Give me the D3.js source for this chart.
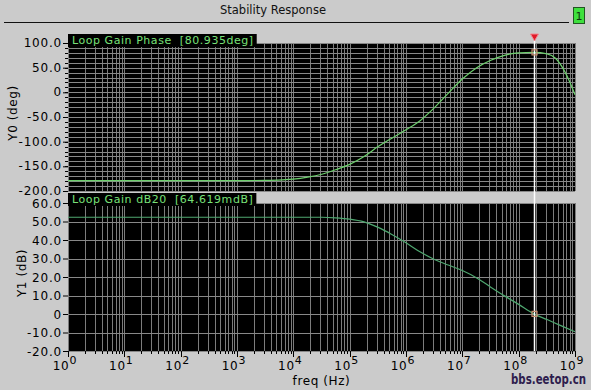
<!DOCTYPE html>
<html><head><meta charset="utf-8">
<script src="https://cdn.jsdelivr.net/npm/d3@7"></script>
<style>
html,body{margin:0;padding:0;background:#cbcbcb;}
svg{display:block;}
text{font-family:"DejaVu Sans",sans-serif;white-space:pre;}
</style></head>
<body>
<svg id="chart" width="591" height="390"></svg>
<script>
// ---- data ----
const phaseFreq = [1, 1e3, 3.2e3, 6.3e3, 1e4, 1.8e4, 3.2e4, 5.6e4, 1e5, 1.8e5, 3.2e5, 5.6e5, 1e6, 1.8e6, 3.2e6, 5.6e6, 1e7, 1.8e7, 3.2e7, 5.6e7, 1e8, 1.86e8, 3.2e8, 4.5e8, 6.3e8, 8e8, 1e9];
const phaseDeg  = [-179, -179, -178.5, -177.5, -176, -172, -166, -157, -146, -130, -110, -93, -76, -57, -31, -2, 27, 50, 65, 75, 80, 81, 78, 69, 46, 22, -5];
const gainFreq  = [1, 3.2e4, 5.6e4, 1e5, 1.8e5, 3.2e5, 5.6e5, 1e6, 1.8e6, 3.2e6, 5.6e6, 1e7, 1.8e7, 3.2e7, 5.6e7, 1e8, 1.86e8, 3.2e8, 5.6e8, 1e9];
const gainDB    = [52.3, 52.3, 52.0, 51.3, 49.8, 46.8, 43, 38.5, 33.5, 29.5, 26.5, 23.5, 19.5, 14.5, 9.8, 5.2, 0.065, -3, -6.3, -9.6];
const decades   = [0, 1, 2, 3, 4, 5, 6, 7, 8, 9];
const phaseTicks = [100, 50, 0, -50, -100, -150, -200];
const phaseTickLabels = ["100.0", "50.0", "0", "-50.0", "-100.0", "-150.0", "-200.0"];
const gainTicks = [60, 50, 40, 30, 20, 10, 0, -10, -20];
const gainTickLabels = ["60.0", "50.0", "40.0", "30.0", "20.0", "10.0", "0", "-10.0", "-20.0"];
const markerFreq = 1.86e8;
const phaseLabel = "Loop Gain Phase  [80.935deg]";
const gainLabel = "Loop Gain dB20  [64.619mdB]";
const markerPhase = 81, markerGain = 0.065;

// ---- layout ----
const svg = d3.select("#chart");
const L = 68, R = 575;
const x = d3.scaleLog().domain([1, 1e9]).range([L, R]);
const y0 = d3.scaleLinear().domain([-200, 100]).range([191, 43]);
const y1 = d3.scaleLinear().domain([-20, 60]).range([351, 203]);

const xMinor = [];
decades.forEach(d => { for (let i = 1; i <= 9; i++) { const v = i * Math.pow(10, d); if (v <= 1e9) xMinor.push(v); } });

// title
svg.append("text").attr("x", 273).attr("y", 14).attr("text-anchor", "middle")
  .attr("font-size", 11.5).attr("fill", "#111").text("Stability Response");
svg.append("line").attr("x1", 4).attr("x2", 569).attr("y1", 22.5).attr("y2", 22.5).attr("stroke", "#111").attr("stroke-width", 1);
svg.append("rect").attr("x", 573.5).attr("y", 7.5).attr("width", 11).attr("height", 16).attr("fill", "#3ee03e").attr("stroke", "#225522");
svg.append("text").attr("x", 579).attr("y", 20).attr("text-anchor", "middle").attr("font-size", 11).attr("fill", "#113311").text("1");

function panel(ys, grid, ticksMajor, tickLabels, minorTicks, freq, vals, color, label, labelTop, yTitle, yTitleX, tickDy) {
  const [y0p, y1p] = ys.range();
  const g = svg.append("g");
  g.append("rect").attr("x", L).attr("y", y1p).attr("width", R - L).attr("height", y0p - y1p).attr("fill", "#000");
  g.selectAll(".vg").data(xMinor).join("line")
    .attr("x1", d => Math.round(x(d)) + 0.5).attr("x2", d => Math.round(x(d)) + 0.5)
    .attr("y1", y1p).attr("y2", y0p).attr("stroke", "#7c7c7c").attr("stroke-width", 1);
  g.selectAll(".hg").data(grid).join("line")
    .attr("x1", L).attr("x2", R)
    .attr("y1", d => Math.round(ys(d)) + 0.5).attr("y2", d => Math.round(ys(d)) + 0.5)
    .attr("stroke", "#888").attr("stroke-width", 1);
  const ax = svg.append("g").attr("transform", `translate(${L},0)`)
    .call(d3.axisLeft(ys).tickValues(ticksMajor).tickSize(5).tickPadding(1)
      .tickFormat((d, i) => tickLabels[i]));
  ax.select(".domain").remove();
  ax.selectAll("line").attr("stroke", "#000");
  ax.selectAll("text").attr("font-size", 12).attr("letter-spacing", "0.8px").attr("fill", "#000")
    .attr("font-family", "DejaVu Sans").attr("dy", tickDy);
  if (minorTicks.length) {
    svg.append("g").selectAll("line").data(minorTicks).join("line")
      .attr("x1", L - 3).attr("x2", L).attr("y1", d => Math.round(ys(d)) + 0.5).attr("y2", d => Math.round(ys(d)) + 0.5)
      .attr("stroke", "#000");
  }
  const pts = freq.map((f, i) => [f, vals[i]]);
  g.append("path").datum(pts)
    .attr("d", d3.line().x(d => x(d[0])).y(d => ys(d[1])).curve(d3.curveMonotoneX))
    .attr("fill", "none").attr("stroke", color).attr("stroke-width", 1.2);
  const lt = svg.append("text").attr("x", L + 4).attr("y", labelTop + 10)
    .attr("font-size", 11).attr("letter-spacing", "0.55px").attr("fill", "#78e078")
    .attr("xml:space", "preserve").text(label);
  const bb = lt.node().getBBox();
  svg.insert("rect", () => lt.node()).attr("x", L).attr("y", labelTop).attr("width", bb.width + 7).attr("height", 13).attr("fill", "#000");
  svg.append("text").attr("transform", `translate(${yTitleX},${(y0p + y1p) / 2 - 4}) rotate(-90)`)
    .attr("text-anchor", "middle").attr("font-size", 12).attr("letter-spacing", "0.6px").attr("fill", "#000").text(yTitle);
}

const phaseGrid = d3.range(-200, 101, 10);
const gainGrid = d3.range(-20, 61, 10);
panel(y0, phaseGrid, phaseTicks, phaseTickLabels, phaseGrid, phaseFreq, phaseDeg, "#6ccf6c", phaseLabel, 34, "Y0 (deg)", 17, "0.3em");
panel(y1, gainGrid, gainTicks, gainTickLabels, [], gainFreq, gainDB, "#4fa870", gainLabel, 193, "Y1 (dB)", 26, "0.36em");

// x axis
const xa = svg.append("g").attr("transform", `translate(0,351)`);
xa.selectAll("line").data(xMinor).join("line")
  .attr("x1", d => Math.round(x(d)) + 0.5).attr("x2", d => Math.round(x(d)) + 0.5)
  .attr("y1", 0).attr("y2", d => decades.some(k => Math.abs(Math.pow(10, k) - d) < 1e-6 * d) ? 6 : 3)
  .attr("stroke", "#000");
const xl = svg.append("g").selectAll("text").data(decades).join("text")
  .attr("x", d => x(Math.pow(10, d)) - 3).attr("y", 370).attr("text-anchor", "middle")
  .attr("font-size", 12).attr("letter-spacing", "0.8px").attr("fill", "#000");
xl.append("tspan").text("10");
xl.append("tspan").attr("dy", -6).attr("font-size", 11).text(d => d);
svg.append("text").attr("x", (L + R) / 2).attr("y", 385).attr("text-anchor", "middle")
  .attr("font-size", 12).attr("letter-spacing", "0.6px").attr("fill", "#000").text("freq (Hz)");

// marker
const mx = Math.round(x(markerFreq)) + 0.5;
svg.append("line").attr("x1", mx).attr("x2", mx).attr("y1", 41).attr("y2", 351).attr("stroke", "#ffffff").attr("stroke-width", 1.5);
svg.append("path").attr("d", `M${mx - 4},34 L${mx + 4},34 L${mx},41 Z`).attr("fill", "#e01a28").attr("stroke", "#f08890").attr("stroke-width", 1);
svg.append("rect").attr("x", mx - 2.5).attr("y", y0(markerPhase) - 2.5).attr("width", 5).attr("height", 5).attr("fill", "none").attr("stroke", "#c89070").attr("stroke-width", 1.2);
svg.append("rect").attr("x", mx - 2.5).attr("y", y1(markerGain) - 2.5).attr("width", 5).attr("height", 5).attr("fill", "none").attr("stroke", "#c89070").attr("stroke-width", 1.2);

// watermark
svg.append("text").attr("x", 511).attr("y", 384)
  .attr("font-family", "'DejaVu Sans Condensed','Liberation Sans Narrow',sans-serif").attr("font-weight", "bold")
  .attr("font-size", 14).attr("fill", "#2e1d4e").attr("textLength", 75).attr("lengthAdjust", "spacingAndGlyphs").text("bbs.eetop.cn");
</script>
</body></html>
